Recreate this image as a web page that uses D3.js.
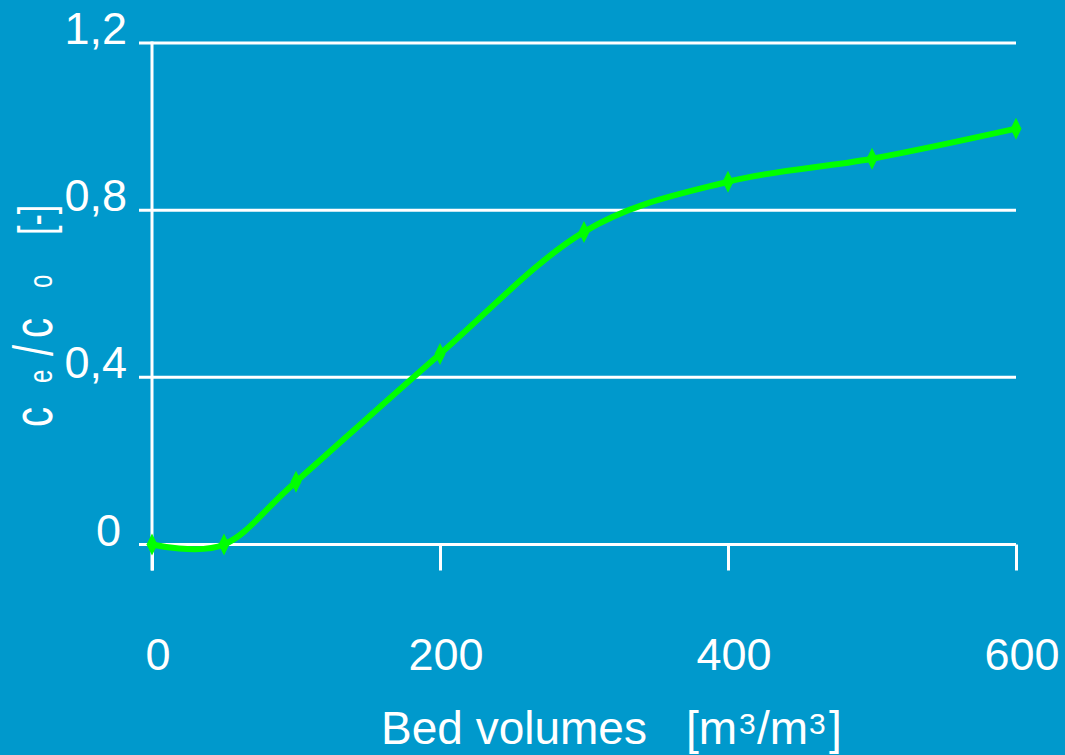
<!DOCTYPE html>
<html>
<head>
<meta charset="utf-8">
<script src="https://cdn.jsdelivr.net/npm/d3@7"></script>
<style>
  html, body { margin: 0; padding: 0; background: #0099cc; }
  svg { display: block; }
  text { font-family: "Liberation Sans", Arial, sans-serif; fill: #ffffff; white-space: pre; }
</style>
</head>
<body>
<svg id="chart" width="1065" height="755"></svg>
<script>
// Data
const bedVolumes = [0, 50, 100, 200, 300, 400, 500, 600];
const ratio      = [0, 0, 0.150, 0.456, 0.748, 0.868, 0.923, 0.995];
const xTicks = [0, 200, 400, 600];
const xTickLabels = ["0", "200", "400", "600"];
const yTicks = [0, 0.4, 0.8, 1.2];
const yTickLabels = ["0", "0,4", "0,8", "1,2"];

const svg = d3.select("#chart");
svg.append("rect").attr("width", 1065).attr("height", 755).attr("fill", "#0099cc");

const x = d3.scaleLinear().domain([0, 600]).range([152, 1016]);
const y = d3.scaleLinear().domain([0, 1.2]).range([544.5, 43]);

// gridlines with left tick marks
svg.append("g").selectAll("line").data(yTicks).join("line")
  .attr("x1", 139).attr("x2", x(600))
  .attr("y1", d => y(d)).attr("y2", d => y(d))
  .attr("stroke", "#fff").attr("stroke-width", 3);

// y axis line
svg.append("line")
  .attr("x1", x(0)).attr("x2", x(0))
  .attr("y1", y(1.2) - 1.5).attr("y2", y(0) + 26)
  .attr("stroke", "#fff").attr("stroke-width", 3);

// x axis ticks
const xAxis = d3.axisBottom(x).tickValues(xTicks).tickSize(26).tickFormat("");
const gx = svg.append("g").attr("transform", `translate(0,${y(0)})`).call(xAxis);
gx.select(".domain").remove();
gx.selectAll(".tick line").attr("stroke", "#fff").attr("stroke-width", 3);

// x tick labels
svg.append("g").selectAll("text").data(xTicks).join("text")
  .attr("x", d => x(d) + 6).attr("y", 670)
  .attr("text-anchor", "middle").attr("font-size", 45)
  .text((d, i) => xTickLabels[i]);

// y tick labels
svg.append("g").selectAll("text").data(yTicks).join("text")
  .attr("x", d => d === 0 ? 121 : 127).attr("y", d => y(d) + 1)
  .attr("text-anchor", "end").attr("font-size", 45)
  .text((d, i) => yTickLabels[i]);

// x title
const xt = svg.append("text").attr("y", 744).attr("font-size", 46);
xt.append("tspan").attr("x", 381).text("Bed volumes");
xt.append("tspan").attr("x", 686).text("[m");
xt.append("tspan").attr("x", 739).attr("y", 734).attr("font-size", 30).text("3");
xt.append("tspan").attr("x", 757).attr("y", 744).text("/m");
xt.append("tspan").attr("x", 809).attr("y", 734).attr("font-size", 30).text("3");
xt.append("tspan").attr("x", 829).attr("y", 744).text("]");

// y title (rotated; positions measured along the text direction)
const yg = svg.append("g").attr("transform", "translate(52,427) rotate(-90) scale(1,1.4)");
const yt = yg.append("text").attr("y", 0).attr("font-size", 40);
yt.append("tspan").attr("x", 0).text("c");
yt.append("tspan").attr("x", 44).attr("font-size", 24).text("e");
yt.append("tspan").attr("x", 71).text("/");
yt.append("tspan").attr("x", 89).text("c");
yt.append("tspan").attr("x", 139).attr("font-size", 24).text("o");
yt.append("tspan").attr("x", 192).attr("font-size", 34).text("[-]");

// line
const pts = bedVolumes.map((v, i) => [v, ratio[i]]);
const line = d3.line().x(d => x(d[0])).y(d => y(d[1])).curve(d3.curveCatmullRom.alpha(0));
svg.append("path").datum(pts).attr("d", line)
  .attr("fill", "none").attr("stroke", "#00ff00").attr("stroke-width", 6)
  .attr("stroke-linejoin", "round");

// diamond markers
svg.append("g").selectAll("path").data(pts).join("path")
  .attr("transform", d => `translate(${x(d[0])},${y(d[1])})`)
  .attr("d", "M0,-11L5.5,0L0,11L-5.5,0Z")
  .attr("fill", "#00ff00");
</script>
</body>
</html>
